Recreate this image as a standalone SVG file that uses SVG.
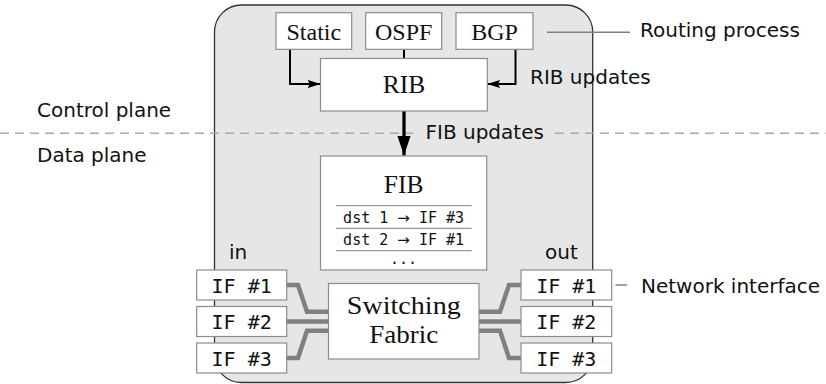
<svg xmlns="http://www.w3.org/2000/svg" width="826" height="384" viewBox="0 0 826 384">
  <style>
    .box { fill: #ffffff; stroke: #8c8c8c; stroke-width: 1.2; }
    .serif { font-family: "Liberation Serif", "Times New Roman", serif; fill: #111; }
    .sans { font-family: "DejaVu Sans", "Liberation Sans", sans-serif; font-size: 20px; fill: #111; }
    .mono { font-family: "DejaVu Sans Mono", "Liberation Mono", monospace; fill: #111; }
    .to { font-family: "DejaVu Sans", sans-serif; }
    .arrow { fill: none; stroke: #000; stroke-width: 2; }
    .link { fill: none; stroke: #808080; stroke-width: 4.5; stroke-linejoin: miter; }
    .leader { fill: none; stroke: #808080; stroke-width: 1.5; }
    .rule { stroke: #999; stroke-width: 1.2; }
  </style>
  <defs>
    <marker id="head" markerUnits="userSpaceOnUse" markerWidth="14" markerHeight="10" refX="13" refY="5" orient="auto">
      <path d="M0,0.8 L13,5 L0,9.2 L2.5,5 Z" fill="#000"/>
    </marker>
    <marker id="headBig" markerUnits="userSpaceOnUse" markerWidth="21" markerHeight="14" refX="20" refY="7" orient="auto">
      <path d="M0,0.3 L20,7 L0,13.7 Z" fill="#000"/>
    </marker>
  </defs>

  <!-- router chassis -->
  <rect id="router" x="214.5" y="5" width="378.2" height="377.5" rx="27" ry="27" fill="#e6e6e6" stroke="#333" stroke-width="1.3"/>

  <!-- control / data plane separator -->
  <line x1="0" y1="133.3" x2="826" y2="133.3" stroke="#aaaaaa" stroke-width="1.5" stroke-dasharray="9 6"/>
  <rect x="413" y="124" width="138" height="18" fill="#e6e6e6"/>

  <text class="sans" x="37" y="117">Control plane</text>
  <text class="sans" x="37" y="162">Data plane</text>

  <!-- connectors -->
  <g id="connectors">
    <path class="arrow" d="M290,49.3 V84 H320.5" marker-end="url(#head)"/>
    <path class="arrow" d="M515.5,49.3 V84 H487.3" marker-end="url(#head)"/>
    <path class="arrow" d="M404,49.3 V58.5"/>
    <path fill="none" stroke="#000" stroke-width="3.3" d="M404,111 V155.6" marker-end="url(#headBig)"/>

    <path class="link" d="M286.5,285 H298 L307,311.7 H328.5"/>
    <path class="link" d="M286.5,321.5 H328.5"/>
    <path class="link" d="M286.5,358 H298 L307,330.8 H328.5"/>
    <path class="link" d="M479,311.7 H500 L509,285 H521"/>
    <path class="link" d="M479,321.5 H521"/>
    <path class="link" d="M479,330.8 H500 L509,358 H521"/>

    <path class="leader" d="M547,32.3 H630"/>
    <path class="leader" d="M615.5,285 H627"/>
  </g>

  <text class="sans" x="530" y="84">RIB updates</text>
  <text class="sans" x="425.5" y="139">FIB updates</text>
  <text class="sans" x="640" y="37">Routing process</text>
  <text class="sans" x="641" y="292.5">Network interface</text>
  <text class="sans" x="229" y="259">in</text>
  <text class="sans" x="545" y="259">out</text>

  <!-- routing protocols -->
  <g id="static">
    <rect class="box" x="276" y="12.7" width="75.7" height="36.6"/>
    <text class="serif" x="313.8" y="40" font-size="24" text-anchor="middle">Static</text>
  </g>
  <g id="ospf">
    <rect class="box" x="365.7" y="12.7" width="76" height="36.6"/>
    <text class="serif" x="403.7" y="40" font-size="24" text-anchor="middle">OSPF</text>
  </g>
  <g id="bgp">
    <rect class="box" x="456" y="12.7" width="77" height="36.6"/>
    <text class="serif" x="494.5" y="40" font-size="24" text-anchor="middle">BGP</text>
  </g>

  <g id="rib">
    <rect class="box" x="320.5" y="58.5" width="166.8" height="52.5"/>
    <text class="serif" x="404" y="93.3" font-size="25.5" text-anchor="middle">RIB</text>
  </g>

  <g id="fib">
    <rect class="box" x="320.5" y="156" width="166.2" height="114"/>
    <text class="serif" x="403.6" y="192.7" font-size="25.5" text-anchor="middle">FIB</text>
    <line class="rule" x1="336" y1="205.7" x2="471.7" y2="205.7"/>
    <line class="rule" x1="336" y1="228.3" x2="471.7" y2="228.3"/>
    <line class="rule" x1="336" y1="250.7" x2="471.7" y2="250.7"/>
    <text class="mono" x="403.6" y="223" font-size="15" text-anchor="middle">dst 1 <tspan class="to">→</tspan> IF #3</text>
    <text class="mono" x="403.6" y="245" font-size="15" text-anchor="middle">dst 2 <tspan class="to">→</tspan> IF #1</text>
    <text class="mono" x="403.6" y="264" font-size="15" text-anchor="middle">...</text>
  </g>

  <g id="fabric">
    <rect class="box" x="328.5" y="283.5" width="150.5" height="75.5"/>
    <text class="serif" x="403.8" y="314.3" font-size="26" text-anchor="middle" textLength="114" lengthAdjust="spacingAndGlyphs">Switching</text>
    <text class="serif" x="403.8" y="343.2" font-size="26" text-anchor="middle" textLength="69" lengthAdjust="spacingAndGlyphs">Fabric</text>
  </g>

  <!-- ingress interfaces -->
  <g id="in-if1">
    <rect class="box" x="196.7" y="270" width="90" height="30"/>
    <text class="mono" x="241.7" y="292.5" font-size="20" text-anchor="middle">IF #1</text>
  </g>
  <g id="in-if2">
    <rect class="box" x="196.7" y="306.5" width="90" height="30"/>
    <text class="mono" x="241.7" y="329" font-size="20" text-anchor="middle">IF #2</text>
  </g>
  <g id="in-if3">
    <rect class="box" x="196.7" y="343" width="90" height="30"/>
    <text class="mono" x="241.7" y="365.5" font-size="20" text-anchor="middle">IF #3</text>
  </g>

  <!-- egress interfaces -->
  <g id="out-if1">
    <rect class="box" x="521" y="270" width="90.7" height="30"/>
    <text class="mono" x="566.3" y="292.5" font-size="20" text-anchor="middle">IF #1</text>
  </g>
  <g id="out-if2">
    <rect class="box" x="521" y="306.5" width="90.7" height="30"/>
    <text class="mono" x="566.3" y="329" font-size="20" text-anchor="middle">IF #2</text>
  </g>
  <g id="out-if3">
    <rect class="box" x="521" y="343" width="90.7" height="30"/>
    <text class="mono" x="566.3" y="365.5" font-size="20" text-anchor="middle">IF #3</text>
  </g>
</svg>
